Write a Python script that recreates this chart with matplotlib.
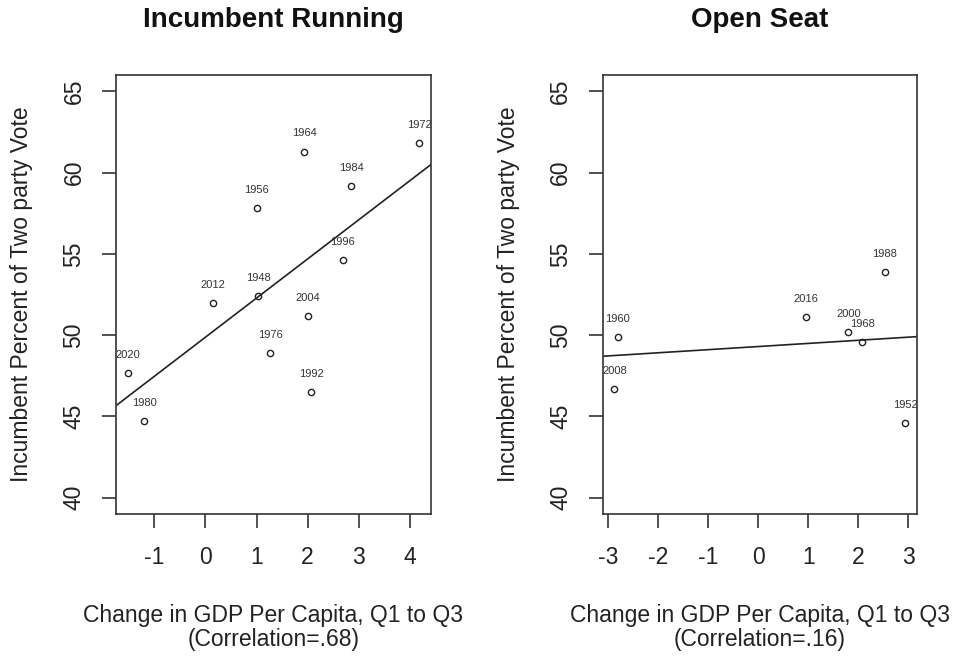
import matplotlib
matplotlib.use("Agg")
import matplotlib.pyplot as plt
import numpy as np

plt.rcParams['font.family'] = ['Liberation Sans', 'DejaVu Sans']
plt.rcParams['axes.unicode_minus'] = False

# incumbent running
inc_years = ["2020", "1980", "2012", "1948", "1956", "1976", "1964", "2004", "1992", "1996", "1984", "1972"]
inc_gdp = [-1.52, -1.20, 0.14, 1.03, 1.00, 1.27, 1.93, 2.00, 2.07, 2.69, 2.85, 4.18]
inc_vote = [47.7, 44.7, 52.0, 52.4, 57.8, 48.9, 61.3, 51.2, 46.5, 54.6, 59.2, 61.8]

# open seat
open_years = ["1960", "2008", "2016", "2000", "1968", "1988", "1952"]
open_gdp = [-2.80, -2.87, 0.96, 1.80, 2.08, 2.53, 2.93]
open_vote = [49.9, 46.7, 51.1, 50.2, 49.6, 53.9, 44.6]

inc_xticks = [-1, 0, 1, 2, 3, 4]
open_xticks = [-3, -2, -1, 0, 1, 2, 3]
yticks = [40, 45, 50, 55, 60, 65]

fig = plt.figure(figsize=(9.54, 6.56), dpi=100)
ax1 = fig.add_axes([0.1216, 0.2165, 0.330, 0.669])
ax2 = fig.add_axes([0.6318, 0.2165, 0.329, 0.669])

panels = [
    (ax1, inc_gdp, inc_vote, inc_years, inc_xticks, "Incumbent Running", "(Correlation=.68)"),
    (ax2, open_gdp, open_vote, open_years, open_xticks, "Open Seat", "(Correlation=.16)"),
]

for ax, x, y, yrs, xt, title, corr in panels:
    x = np.array(x)
    y = np.array(y)
    ax.plot(x, y, 'o', mfc='none', mec='#222222', ms=4.5, mew=1.0)
    for xi, yi, lab in zip(x, y, yrs):
        ax.annotate(lab, (xi, yi), xytext=(0, 13), textcoords='offset points',
                    ha='center', va='center', fontsize=8, color='#333333')
    m, b = np.polyfit(x, y, 1)
    ax.axline((0, b), slope=m, color='#222222', lw=1.2)
    r = x.max() - x.min()
    ax.set_xlim(x.min() - 0.04 * r, x.max() + 0.04 * r)
    ax.set_ylim(39, 66)
    ax.set_xticks(xt)
    ax.set_yticks(yticks)
    ax.set_yticklabels([str(v) for v in yticks], rotation=90, va='center')
    ax.tick_params(length=10, width=1.2, colors='#333333', labelsize=16.5,
                   labelcolor='#222222')
    ax.tick_params(axis='x', pad=13)
    ax.tick_params(axis='y', pad=12)
    for s in ax.spines.values():
        s.set_linewidth(1.2)
        s.set_color('#333333')
    ax.set_title(title, fontsize=20, fontweight='bold', pad=35, color='#111111')
    ax.set_xlabel("Change in GDP Per Capita, Q1 to Q3\n" + corr, fontsize=16.5,
                  labelpad=25, color='#222222', linespacing=1.1)
    ax.set_ylabel("Incumbent Percent of Two party Vote", fontsize=16.5,
                  labelpad=21, color='#222222')

fig.savefig("out.png", dpi=100, facecolor='white')
